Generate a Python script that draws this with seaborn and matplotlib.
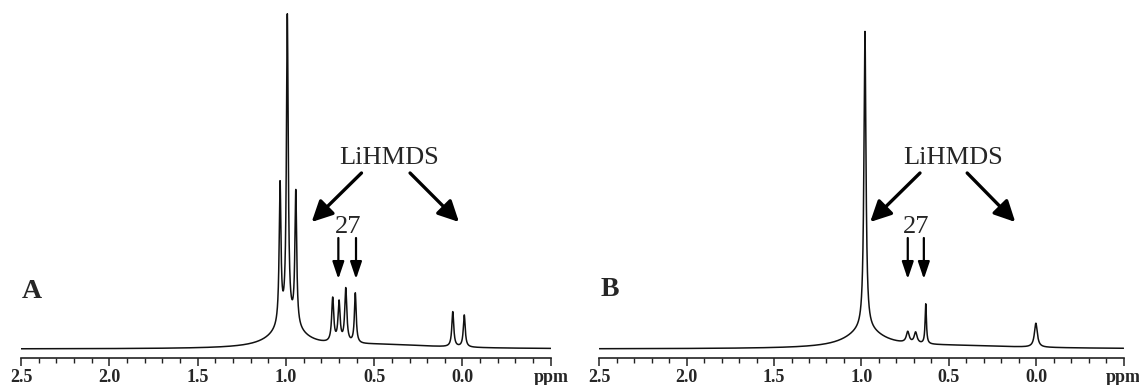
import numpy as np
import pandas as pd
import matplotlib
matplotlib.use("Agg")
import matplotlib.pyplot as plt
import seaborn as sns

# ---- data: peak lists (ppm position, height, half-width) ----
peaks_a_pos = [1.033, 0.992, 0.944, 0.99, 0.735, 0.699, 0.661, 0.607, 0.055, -0.010, 0.45]
peaks_a_h   = [140,   305,   133,   24,   44,    40,    54,    50,    35,    32,     4]
peaks_a_w   = [0.006, 0.006, 0.006, 0.10, 0.007, 0.007, 0.007, 0.006, 0.0065, 0.0065, 0.35]

peaks_b_pos = [0.980, 0.98, 0.735, 0.690, 0.632, 0.002, 0.50]
peaks_b_h   = [298,   18,   11,    11,    40,    24,    3]
peaks_b_w   = [0.007, 0.12, 0.010, 0.010, 0.0045, 0.010, 0.5]

tick_values = [2.5, 2.0, 1.5, 1.0, 0.5, 0.0, -0.5]
tick_labels = ["2.5", "2.0", "1.5", "1.0", "0.5", "0.0", "ppm"]
panel_labels = ["A", "B"]
compound_label = "LiHMDS"
product_label = "27"

sns.set_style("white")
plt.rcParams["font.family"] = ["Liberation Serif", "DejaVu Serif"]

ppm = np.linspace(2.5, -0.5, 8000)


def spectrum(pos, h, w):
    y = np.zeros_like(ppm)
    for p, hh, ww in zip(pos, h, w):
        y += hh / (1.0 + ((ppm - p) / ww) ** 2)
    return y


fig = plt.figure(figsize=(11.39, 3.85), dpi=100)
ax_a = fig.add_axes([21 / 1139, (385 - 358.3) / 385, 529.8 / 1139, 358.3 / 385])
ax_b = fig.add_axes([599.3 / 1139, (385 - 358.3) / 385, 524.3 / 1139, 358.3 / 385])

panels = [
    (ax_a, peaks_a_pos, peaks_a_h, peaks_a_w),
    (ax_b, peaks_b_pos, peaks_b_h, peaks_b_w),
]

for ax, pos, h, w in panels:
    df = pd.DataFrame({"ppm": ppm, "intensity": spectrum(pos, h, w)})
    sns.lineplot(data=df, x="ppm", y="intensity", ax=ax, color="#111111",
                 linewidth=1.1, estimator=None, sort=False)
    ax.set_xlim(2.5, -0.5)
    ax.set_ylim(-9.3, 349)
    ax.set_xlabel("")
    ax.set_ylabel("")
    ax.set_yticks([])
    for s in ["left", "right", "top"]:
        ax.spines[s].set_visible(False)
    ax.spines["bottom"].set_color("#222222")
    ax.spines["bottom"].set_linewidth(1.2)
    ax.set_xticks(tick_values)
    ax.set_xticklabels(tick_labels, fontweight="bold", fontsize=13)
    ax.set_xticks(np.arange(-0.5, 2.51, 0.1), minor=True)
    ax.tick_params(axis="x", which="major", direction="out", length=5.5,
                   width=1.1, color="#222222", pad=2, bottom=True)
    ax.tick_params(axis="x", which="minor", direction="out", length=3.5,
                   width=1.0, color="#222222", bottom=True)
    ax.patch.set_alpha(0)

fig.patch.set_facecolor("white")

big = dict(arrowstyle="-|>,head_length=0.7,head_width=0.35", lw=2.4,
           color="black", mutation_scale=18, shrinkA=0, shrinkB=0)
small = dict(arrowstyle="-|>,head_length=0.65,head_width=0.22", lw=1.6,
             color="black", mutation_scale=16, shrinkA=0, shrinkB=0)

# panel A annotations
ax_a.text(0.416, 191, compound_label, fontsize=19, ha="center", va="center")
ax_a.annotate("", xy=(0.854, 127), xytext=(0.572, 176), arrowprops=big)
ax_a.annotate("", xy=(0.020, 127), xytext=(0.297, 176), arrowprops=big)
ax_a.text(0.650, 122, product_label, fontsize=19, ha="center", va="center")
ax_a.annotate("", xy=(0.703, 70), xytext=(0.703, 111), arrowprops=small)
ax_a.annotate("", xy=(0.603, 70), xytext=(0.603, 111), arrowprops=small)
ax_a.text(2.44, 57, panel_labels[0], fontsize=20, fontweight="bold",
          ha="center", va="center")

# panel B annotations
ax_b.text(0.475, 191, compound_label, fontsize=19, ha="center", va="center")
ax_b.annotate("", xy=(0.950, 127), xytext=(0.665, 176), arrowprops=big)
ax_b.annotate("", xy=(0.120, 127), xytext=(0.395, 176), arrowprops=big)
ax_b.text(0.688, 122, product_label, fontsize=19, ha="center", va="center")
ax_b.annotate("", xy=(0.735, 70), xytext=(0.735, 111), arrowprops=small)
ax_b.annotate("", xy=(0.643, 70), xytext=(0.643, 111), arrowprops=small)
ax_b.text(2.44, 59, panel_labels[1], fontsize=20, fontweight="bold",
          ha="center", va="center")

fig.savefig("out.png", dpi=100, facecolor="white")
